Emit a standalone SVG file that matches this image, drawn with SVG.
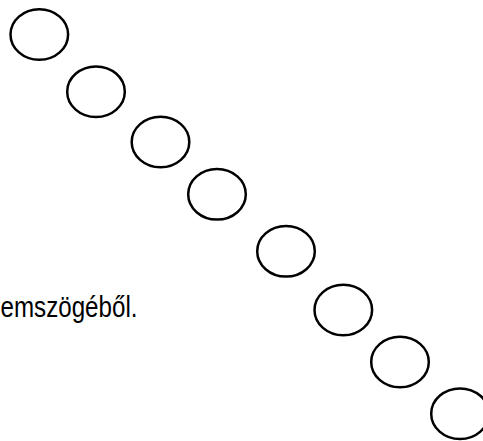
<svg xmlns="http://www.w3.org/2000/svg" width="483" height="441" viewBox="0 0 483 441">
<style>
.c{fill:none;stroke:#000;stroke-width:2.5}
.t{font-family:"Liberation Sans",Arial,sans-serif;font-size:29px;fill:#000}
</style>
<rect width="483" height="441" fill="#fff"/>
<g id="n1"><ellipse class="c" cx="39.3" cy="34.5" rx="28.8" ry="25.3"/></g>
<g id="n2"><ellipse class="c" cx="96" cy="91.7" rx="28.8" ry="25.3"/></g>
<g id="n3"><ellipse class="c" cx="160.5" cy="142" rx="28.8" ry="25.3"/></g>
<g id="n4"><ellipse class="c" cx="217" cy="194.3" rx="28.8" ry="25.3"/></g>
<g id="n5"><ellipse class="c" cx="286" cy="251.3" rx="28.8" ry="25.3"/></g>
<g id="n6"><ellipse class="c" cx="343.3" cy="310" rx="28.8" ry="25.3"/></g>
<g id="n7"><ellipse class="c" cx="400" cy="362" rx="28.8" ry="25.3"/></g>
<g id="n8"><ellipse class="c" cx="460" cy="413.7" rx="28.8" ry="25.3"/></g>
<text id="label" class="t" x="137.5" y="317" text-anchor="end" textLength="137" lengthAdjust="spacingAndGlyphs">emszögéből.</text>
</svg>
